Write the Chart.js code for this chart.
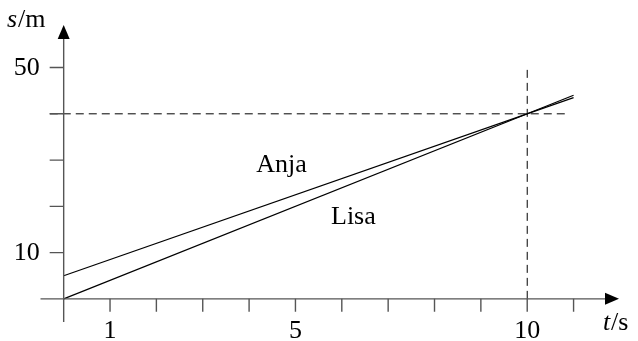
<!DOCTYPE html>
<html>
<head>
<meta charset="utf-8">
<script src="https://cdn.jsdelivr.net/npm/chart.js@4.4.0/dist/chart.umd.min.js"></script>
<style>
    html, body { margin: 0; padding: 0; background: #fff; }
    #wrap { width: 638px; height: 341px; }
</style>
</head>
<body>
<div id="wrap"><canvas id="motionChart"></canvas></div>
<script>
// time in s, distance in m
const times = [0, 11];
const anja = [5, 43.5];
const lisa = [0, 44];

const meetT = 10;
const meetS = 40;

const xTicks = [1, 2, 3, 4, 5, 6, 7, 8, 9, 10, 11];
const xLabels = [1, 5, 10];
const yTicks = [10, 20, 30, 40, 50];
const yLabels = [10, 50];

const serif = '"Liberation Serif", "DejaVu Serif", serif';
const axisColor = '#555';

const axesPlugin = {
    id: 'axesPlugin',
    afterDatasetsDraw(chart) {
        const ctx = chart.ctx;
        const x = chart.scales.x;
        const y = chart.scales.y;
        const area = chart.chartArea;
        const x0 = x.getPixelForValue(0);
        const y0 = y.getPixelForValue(0);

        ctx.save();
        ctx.strokeStyle = axisColor;
        ctx.lineWidth = 1.4;

        // axes
        ctx.beginPath();
        ctx.moveTo(area.left, y0);
        ctx.lineTo(area.right - 10, y0);
        ctx.moveTo(x0, area.bottom);
        ctx.lineTo(x0, area.top + 10);
        ctx.stroke();

        // tick marks
        ctx.beginPath();
        xTicks.forEach(v => {
            const px = x.getPixelForValue(v);
            ctx.moveTo(px, y0);
            ctx.lineTo(px, y0 + 13);
        });
        yTicks.forEach(v => {
            const py = y.getPixelForValue(v);
            ctx.moveTo(x0 - 14, py);
            ctx.lineTo(x0, py);
        });
        ctx.stroke();

        // arrow heads
        ctx.fillStyle = '#000';
        ctx.beginPath();
        ctx.moveTo(x0, area.top);
        ctx.lineTo(x0 - 6, area.top + 14);
        ctx.lineTo(x0 + 6, area.top + 14);
        ctx.closePath();
        ctx.fill();
        ctx.beginPath();
        ctx.moveTo(area.right, y0);
        ctx.lineTo(area.right - 14, y0 - 6);
        ctx.lineTo(area.right - 14, y0 + 6);
        ctx.closePath();
        ctx.fill();

        // tick labels
        ctx.fillStyle = '#000';
        ctx.font = '26px ' + serif;
        ctx.textAlign = 'center';
        ctx.textBaseline = 'alphabetic';
        xLabels.forEach(v => {
            ctx.fillText(String(v), x.getPixelForValue(v), y0 + 39);
        });
        ctx.textAlign = 'right';
        ctx.textBaseline = 'middle';
        yLabels.forEach(v => {
            ctx.fillText(String(v), x0 - 24, y.getPixelForValue(v) + 1);
        });

        // axis titles
        ctx.textBaseline = 'alphabetic';
        ctx.textAlign = 'left';
        ctx.font = 'italic 26px ' + serif;
        ctx.fillText('s', 7, 27);
        ctx.fillText('t', 603, 330);
        ctx.font = '26px ' + serif;
        ctx.fillText('/m', 18, 27);
        ctx.fillText('/s', 611, 330);

        // line names
        ctx.textAlign = 'center';
        ctx.fillText('Anja', x.getPixelForValue(4.7), y.getPixelForValue(27.4));
        ctx.fillText('Lisa', x.getPixelForValue(6.25), y.getPixelForValue(16.2));
        ctx.restore();
    }
};

const ctx = document.getElementById('motionChart').getContext('2d');
new Chart(ctx, {
    type: 'line',
    data: {
        datasets: [{
            label: 'Anja',
            data: times.map((t, i) => ({ x: t, y: anja[i] })),
            borderColor: '#000',
            borderWidth: 1.2,
            pointRadius: 0
        }, {
            label: 'Lisa',
            data: times.map((t, i) => ({ x: t, y: lisa[i] })),
            borderColor: '#000',
            borderWidth: 1.2,
            pointRadius: 0
        }, {
            label: 'meet s',
            data: [{ x: -0.3, y: meetS }, { x: 10.9, y: meetS }],
            borderColor: '#000',
            borderWidth: 1,
            borderDash: [8, 5],
            pointRadius: 0
        }, {
            label: 'meet t',
            data: [{ x: meetT, y: 0 }, { x: meetT, y: 50 }],
            borderColor: '#000',
            borderWidth: 1,
            borderDash: [8, 5],
            pointRadius: 0
        }]
    },
    options: {
        responsive: true,
        maintainAspectRatio: false,
        animation: false,
        layout: {
            padding: { left: 40.5, right: 19, top: 25, bottom: 19 }
        },
        scales: {
            x: { type: 'linear', min: -0.5, max: 11.98, display: false },
            y: { type: 'linear', min: -5, max: 59.2, display: false }
        },
        plugins: {
            legend: { display: false },
            tooltip: { enabled: false }
        }
    },
    plugins: [axesPlugin]
});
</script>
</body>
</html>
